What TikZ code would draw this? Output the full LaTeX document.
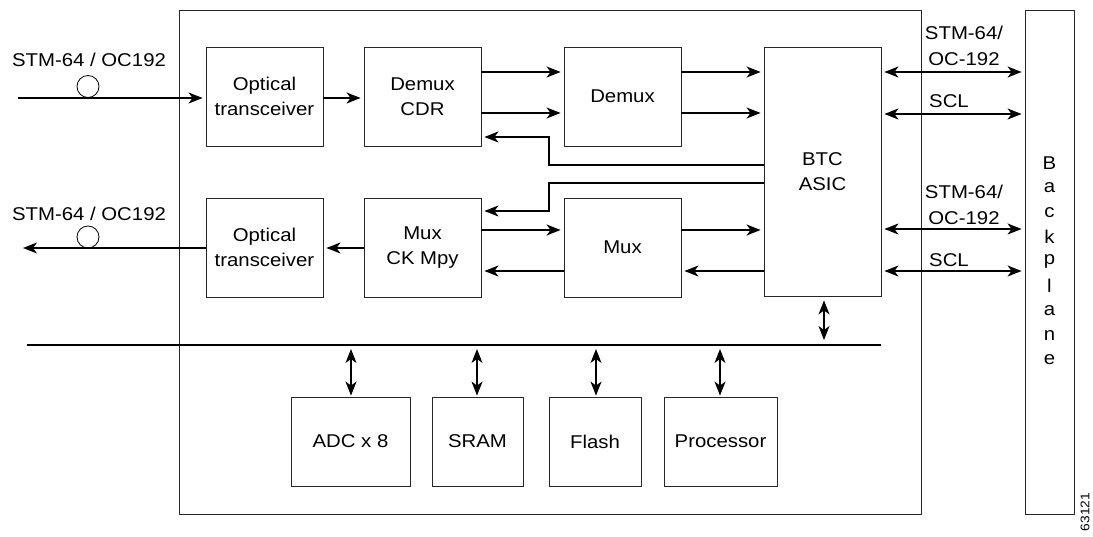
\documentclass[tikz,border=0pt]{standalone}
\usepackage{fontspec}
\setmainfont{Liberation Sans}[FakeStretch=1.1]
\usetikzlibrary{arrows.meta}
\begin{document}
\begin{tikzpicture}[x=1pt,y=-1pt,
  every node/.style={font=\fontsize{18.5}{25}\selectfont},
  box/.style={draw=black!85,line width=0.9pt,minimum width=117pt,minimum height=99pt,inner sep=0pt,align=center},
  arr/.style={line width=1.1pt,-{Stealth[length=14pt,width=11pt,inset=4pt]},shorten >=3pt},
  darr/.style={line width=1.1pt,{Stealth[length=14pt,width=11pt,inset=4pt]}-{Stealth[length=14pt,width=11pt,inset=4pt]},shorten >=3pt,shorten <=3pt},
  plain/.style={line width=1.1pt},
  lbl/.style={inner sep=0pt}]
\useasboundingbox (0,0) rectangle (1093,537);
% frames
\node[box,minimum width=742pt,minimum height=504pt] (frame) at (550,262) {};
\node[box,minimum width=49pt,minimum height=504pt] (bp) at (1049.5,262) {};
% main boxes
\node[box] (ot1) at (264.5,96.5) {Optical\\transceiver};
\node[box] (ot2) at (264.5,247.5) {Optical\\transceiver};
\node[box] (dcdr) at (422.5,96.5) {Demux\\CDR};
\node[box] (demux) at (622.5,96.5) {Demux};
\node[box] (mcdr) at (422.5,247.5) {Mux\\CK Mpy};
\node[box] (mux) at (622.5,247.5) {Mux};
\node[box,minimum height=249pt] (btc) at (822.5,171.5) {BTC\\ASIC};
\node[box,minimum width=119pt,minimum height=89pt] (adc) at (350.5,441.5) {ADC x 8};
\node[box,minimum width=91pt,minimum height=89pt] (sram) at (477.5,441.5) {SRAM};
\node[box,minimum width=92pt,minimum height=89pt] (flash) at (595,441.5) {Flash};
\node[box,minimum width=113pt,minimum height=89pt] (proc) at (720.5,441.5) {Processor};
% backplane letters
\foreach \c [count=\i from 0] in {B,a,c,k,p,l,a,n,e}
  \node[lbl] (bl\i) at (1049.5,163+24.6*\i) {\c};
\node[lbl,rotate=90,font=\fontsize{12.5}{14}\selectfont] (num) at (1085,512) {63121};
% optical lines
\coordinate (inS) at (18,98);
\draw[arr] (inS) -- (inS -| ot1.west);
\node[draw,circle,line width=0.8pt,minimum size=22pt,inner sep=0pt] (c1) at (88,86.5) {};
\node[lbl] (l1) at (89,60) {STM-64 / OC192};
\coordinate (outE) at (20,248);
\draw[arr] (outE -| ot2.west) -- (outE);
\node[draw,circle,line width=0.8pt,minimum size=22pt,inner sep=0pt] (c2) at (88,237) {};
\node[lbl] (l2) at (89,214) {STM-64 / OC192};
% internal arrows
\coordinate (y98) at (0,98);
\draw[arr] (y98 -| ot1.east) -- (y98 -| dcdr.west);
\coordinate (y72) at (0,72);
\coordinate (y113) at (0,113);
\draw[arr] (y72 -| dcdr.east) -- (y72 -| demux.west);
\draw[arr] (y113 -| dcdr.east) -- (y113 -| demux.west);
\draw[arr] (y72 -| demux.east) -- (y72 -| btc.west);
\draw[arr] (y113 -| demux.east) -- (y113 -| btc.west);
\coordinate (y165) at (0,165);
\coordinate (y137) at (0,137);
\coordinate (y183) at (0,183);
\coordinate (y211) at (0,211);
\draw[arr] (y165 -| btc.west) -- (549,165) -- (549,137) -- (y137 -| dcdr.east);
\draw[arr] (y183 -| btc.west) -- (549,183) -- (549,211) -- (y211 -| mcdr.east);
\coordinate (y230) at (0,230);
\coordinate (y271) at (0,271);
\coordinate (y248) at (0,248);
\draw[arr] (y230 -| mcdr.east) -- (y230 -| mux.west);
\draw[arr] (y230 -| mux.east) -- (y230 -| btc.west);
\draw[arr] (y271 -| btc.west) -- (y271 -| mux.east);
\draw[arr] (y271 -| mux.west) -- (y271 -| mcdr.east);
\draw[arr] (y248 -| mcdr.west) -- (y248 -| ot2.east);
% backplane connections
\coordinate (y229) at (0,229);
\coordinate (y114) at (0,114);
\draw[darr] (y72 -| btc.east) -- (y72 -| bp.west);
\draw[darr] (y114 -| btc.east) -- (y114 -| bp.west);
\draw[darr] (y229 -| btc.east) -- (y229 -| bp.west);
\draw[darr] (y271 -| btc.east) -- (y271 -| bp.west);
\node[lbl,align=center,font=\fontsize{18.5}{26}\selectfont] (t1) at (964,46) {STM-64/\\OC-192};
\node[lbl,anchor=west] (t2) at (929,101.5) {SCL};
\node[lbl,align=center,font=\fontsize{18.5}{26}\selectfont] (t3) at (964,205) {STM-64/\\OC-192};
\node[lbl,anchor=west] (t4) at (929,260) {SCL};
% bus
\coordinate (busL) at (27,345);
\coordinate (busR) at (881,345);
\draw[plain] (busL) -- (busR);
\draw[darr,shorten <=4pt,shorten >=5pt] (btc.south -| 824,0) -- (824,345);
\draw[darr,shorten <=4pt,shorten >=1pt] (351,345) -- (adc.north -| 351,0);
\draw[darr,shorten <=4pt,shorten >=1pt] (477,345) -- (sram.north -| 477,0);
\draw[darr,shorten <=4pt,shorten >=1pt] (596,345) -- (flash.north -| 596,0);
\draw[darr,shorten <=4pt,shorten >=1pt] (720,345) -- (proc.north -| 720,0);
\end{tikzpicture}
\end{document}
